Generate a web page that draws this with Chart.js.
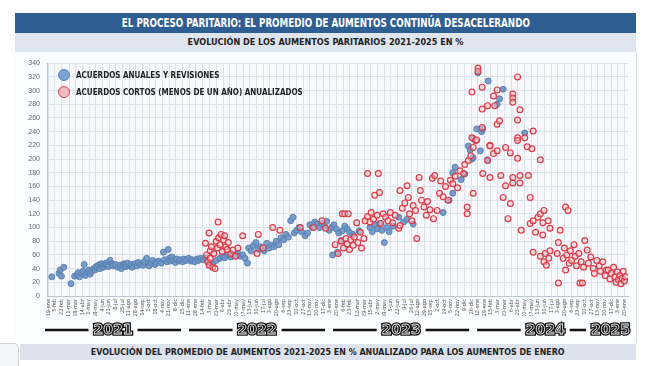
<!DOCTYPE html>
<html>
<head>
<meta charset="utf-8">
<script src="https://cdn.jsdelivr.net/npm/chart.js@4.4.1/dist/chart.umd.min.js"></script>
<style>
  body { margin: 0; width: 651px; height: 366px; background: #fff; position: relative; overflow: hidden; }
  .bar { position: absolute; text-align: center; font-family: "Liberation Sans Narrow", "DejaVu Sans Condensed", sans-serif; font-weight: bold; }
  .bar b { display: inline-block; }
  #title { left: 15px; top: 13px; width: 621px; height: 20px; line-height: 20px; background: #2f5e93; color: #fff; font-size: 12px; }
  #title b { transform: scaleX(0.81); }
  #sub { left: 15px; top: 33px; width: 621px; height: 19px; line-height: 19px; background: #dfe5ee; color: #222; font-size: 9px; }
  #box { position: absolute; left: 15px; top: 52px; width: 621px; height: 291px; background: #fbfcfd; border-right: 1px solid #d6dbe2; }
  #foot { left: 20px; top: 344px; width: 616px; height: 16px; line-height: 16px; background: #dce3ed; color: #222; font-size: 9px; }
  #foot b { transform: scaleX(0.98); }
  #tab { position: absolute; left: 0; top: 343px; width: 18px; height: 23px; background: #f4f5f7; border-right: 1px solid #cfd4da; border-top: 1px solid #cfd4da; border-top-right-radius: 5px; }
  .leg { position: absolute; left: 58px; font-family: "Liberation Sans Narrow", "DejaVu Sans Condensed", sans-serif; font-weight: bold; font-size: 8px; color: #222; }
  .leg span { display: inline-block; width: 10px; height: 10px; border-radius: 50%; vertical-align: middle; margin-right: 6px; }
</style>
</head>
<body>
<div class="bar" id="title"><b>EL PROCESO PARITARIO: EL PROMEDIO DE AUMENTOS CONTINÚA DESACELERANDO</b></div>
<div class="bar" id="sub">EVOLUCIÓN DE LOS AUMENTOS PARITARIOS 2021-2025 EN %</div>
<div id="box"><canvas id="chart" width="621" height="291"></canvas></div>
<div class="leg" style="top:69px"><span style="background:#7ba3d7;border:1px solid #5a84b5"></span>ACUERDOS ANUALES Y REVISIONES</div>
<div class="leg" style="top:86px"><span style="background:#f3bcc2;border:1px solid #d2434f"></span>ACUERDOS CORTOS (MENOS DE UN AÑO) ANUALIZADOS</div>
<div class="bar" id="foot"><b>EVOLUCIÓN DEL PROMEDIO DE AUMENTOS 2021-2025 EN % ANUALIZADO PARA LOS AUMENTOS DE ENERO</b></div>
<div id="tab"></div>
<script>
// x = months since 1 Jan 2021, y = % increase
const blue2021 = [[0.9,28],[1.5,33],[1.6,38],[1.7,29],[1.9,42],[2.5,18],[2.8,29],[3.0,31],[3.1,34],[3.2,28],[3.4,33],[3.5,36],[3.6,46],[3.7,30],[3.9,35],[4.0,38],[4.1,32],[4.2,36],[4.4,40],[4.5,38],[4.6,43],[4.7,41],[4.8,45],[4.9,40],[5.0,47],[5.1,44],[5.2,42],[5.3,46],[5.4,48],[5.5,45],[5.6,43],[5.75,52],[5.9,47],[6.0,44],[6.2,46],[6.4,42],[6.6,45],[6.7,40],[6.8,44],[6.9,47],[7.0,45],[7.1,43],[7.2,48],[7.4,44],[7.5,46],[7.6,42],[7.8,47],[8.0,44],[8.1,49],[8.3,46],[8.5,45],[8.6,50],[8.8,55],[8.9,47],[9.0,44],[9.2,48],[9.3,52],[9.5,46],[9.6,49],[9.8,51],[10.0,48],[10.2,64],[10.3,53],[10.5,50],[10.6,68],[10.7,55],[10.8,51],[10.9,57],[11.0,52],[11.2,49],[11.3,54],[11.5,51],[11.6,53],[11.8,50],[11.9,54]];
const blue2022 = [[12.1,52],[12.3,55],[12.5,51],[12.6,53],[12.8,50],[13.0,54],[13.1,52],[13.3,55],[13.5,53],[13.7,56],[14.0,48],[14.3,47],[14.6,52],[14.9,55],[15.1,58],[15.3,56],[15.6,60],[15.8,57],[16.0,61],[16.2,59],[16.4,62],[16.6,58],[16.8,60],[17.0,55],[17.2,48],[17.3,70],[17.5,66],[17.7,74],[17.9,78],[18.1,68],[18.3,72],[18.6,66],[18.8,77],[19.0,70],[19.2,74],[19.4,72],[19.6,80],[19.8,75],[20.0,85],[20.2,82],[20.4,90],[20.6,86],[20.8,110],[21.0,115],[21.1,92],[21.3,96],[21.5,100],[21.7,94],[22.0,88],[22.2,92],[22.4,104],[22.6,100],[22.8,108],[23.0,105],[23.2,100],[23.4,106],[23.6,102],[23.8,109]];
const blue2023 = [[24.0,96],[24.2,100],[24.3,60],[24.4,104],[24.6,98],[24.7,64],[24.8,92],[25.0,81],[25.1,95],[25.3,102],[25.5,98],[25.7,93],[26.0,90],[26.5,95],[27.4,100],[27.6,94],[27.8,104],[28.0,98],[28.2,106],[28.4,96],[28.6,78],[28.8,100],[29.0,94],[29.3,102],[29.8,115],[30.2,108],[30.5,112],[31.0,105],[33.5,122],[34.0,140],[34.3,150],[34.3,180],[34.5,188],[35.0,170],[35.3,178],[35.6,219],[35.75,213],[35.9,200]];
const blue2024 = [[36.0,230],[36.0,202],[36.3,244],[36.4,326],[36.6,212],[36.7,240],[36.8,244],[37.2,199],[37.25,314],[38.0,280],[38.2,288],[38.5,302],[40.3,238]];

const red2022 = [[13.7,77],[13.8,60],[13.9,50],[14.0,92],[14.0,45],[14.1,55],[14.1,66],[14.2,72],[14.3,42],[14.4,62],[14.5,40],[14.6,80],[14.7,70],[14.75,108],[14.8,85],[14.9,75],[15.0,90],[15.1,65],[15.2,82],[15.3,88],[15.4,72],[15.5,68],[15.6,78],[15.8,62],[16.0,67],[16.2,58],[16.4,70],[16.8,88],[18.0,62],[18.1,90],[18.5,70],[19.3,100],[19.9,96],[21.6,100],[22.7,100],[23.4,110],[23.7,99]];
const red2023 = [[24.5,75],[24.75,62],[25.0,80],[25.1,120],[25.2,70],[25.3,120],[25.4,84],[25.5,76],[25.6,120],[25.7,68],[25.8,82],[26.0,74],[26.1,86],[26.3,107],[26.4,78],[26.6,93],[26.7,70],[26.9,84],[27.0,110],[27.2,179],[27.2,116],[27.4,108],[27.5,122],[27.7,112],[27.8,147],[28.0,118],[28.1,179],[28.2,151],[28.3,106],[28.5,120],[28.7,115],[28.9,110],[29.1,122],[29.3,107],[29.5,118],[29.8,99],[29.9,103],[29.9,154],[30.1,128],[30.3,136],[30.5,161],[30.6,144],[30.7,120],[30.9,110],[31.0,132],[31.2,125],[31.3,84],[31.5,173],[31.6,154],[31.7,140],[31.9,130],[32.1,118],[32.2,138],[32.4,126],[32.6,172],[32.7,113],[32.8,176],[33.0,125],[33.2,150],[33.3,168],[33.5,145],[33.7,160],[33.9,140],[34.1,169],[34.3,164],[34.5,175],[34.7,158],[34.9,183],[35.2,179],[35.3,192],[35.5,130],[35.5,120],[35.6,198],[35.8,205],[35.9,298],[35.9,231]];
const red2024 = [[36.0,150],[36.0,217],[36.2,227],[36.3,228],[36.4,333],[36.4,328],[36.75,305],[36.75,273],[36.75,246],[36.8,179],[37.2,278],[37.2,198],[37.4,220],[37.4,219],[37.4,173],[37.7,292],[37.7,208],[37.8,278],[38.0,301],[38.0,251],[38.0,212],[38.2,256],[38.3,176],[38.5,144],[38.7,161],[38.7,217],[38.9,113],[39.1,135],[39.1,209],[39.3,295],[39.3,289],[39.3,283],[39.3,165],[39.3,173],[39.7,320],[39.7,257],[39.7,231],[39.7,227],[39.7,201],[39.9,272],[39.9,176],[39.9,165],[40.0,96],[40.3,231],[40.5,218],[40.6,176],[40.75,144],[40.75,106],[40.9,215],[41.0,241],[41.0,64],[41.0,110],[41.2,93],[41.4,115],[41.6,199],[41.6,120],[41.6,58],[41.8,89],[41.8,107],[41.9,125],[41.9,50],[42.0,62],[42.1,45],[42.25,110],[42.3,55],[42.4,99],[42.4,66],[43.0,62],[43.1,78],[43.1,19],[43.25,96],[43.5,55],[43.6,70],[43.7,130],[43.7,38],[43.8,60],[43.9,125],[44.0,48],[44.1,66],[44.2,52],[44.4,75],[44.5,58],[44.6,44],[44.8,62],[44.9,19],[45.0,50],[45.1,19],[45.2,42],[45.3,81],[45.5,67],[45.6,48],[45.8,57],[46.0,40],[46.1,33],[46.3,52],[46.5,44],[46.6,36],[46.8,50],[47.0,30],[47.1,38],[47.25,38],[47.4,25],[47.5,33],[47.7,42],[47.8,28],[47.9,20]];
const red2025 = [[48.0,35],[48.1,24],[48.2,30],[48.3,18],[48.4,26],[48.5,36],[48.6,22],[48.7,28]];

const monthNames = ["ene","feb","mar","abr","may","jun","jul","ago","sep","oct","nov","dic"];
const ticks2021 = ["19-ene","5-feb","22-feb","11-mar","28-mar","14-abr","1-may","18-may","4-jun","21-jun","8-jul","25-jul","11-ago","28-ago","14-sep","1-oct","18-oct","4-nov","21-nov","8-dic","25-dic"];
const ticks2022 = ["11-ene","28-ene","14-feb","3-mar","20-mar","6-abr","23-abr","10-may","27-may","13-jun","30-jun","17-jul","3-ago","20-ago","6-sep","23-sep","10-oct","27-oct","13-nov","30-nov","17-dic"];
const ticks2023 = ["3-ene","20-ene","6-feb","23-feb","12-mar","29-mar","15-abr","2-may","19-may","5-jun","22-jun","9-jul","26-jul","12-ago","29-ago","15-sep","2-oct","19-oct","5-nov","22-nov","9-dic","26-dic"];
const ticks2024 = ["12-ene","29-ene","15-feb","3-mar","20-mar","6-abr","23-abr","10-may","27-may","13-jun","30-jun","17-jul","3-ago","20-ago","6-sep","23-sep","10-oct","27-oct","13-nov","30-nov","17-dic"];
const ticks2025 = ["3-ene","20-ene"];
const years = ["2021","2022","2023","2024","2025"];

const toXY = p => ({ x: p[0], y: p[1] });
const blueData = [].concat(blue2021, blue2022, blue2023, blue2024).map(toXY);
const redData = [].concat(red2022, red2023, red2024, red2025).map(toXY);

const tickLabels = [];
const tickPos = [];
[ticks2021, ticks2022, ticks2023, ticks2024, ticks2025].forEach((list, yi) => {
    list.forEach(lbl => {
        const parts = lbl.split("-");
        tickLabels.push(lbl);
        tickPos.push(yi * 12 + monthNames.indexOf(parts[1]) + (parseInt(parts[0]) - 1) / 30);
    });
});

const yearBand = {
    id: "yearBand",
    afterDraw(chart) {
        const ctx = chart.ctx;
        const xs = chart.scales.x;
        const area = chart.chartArea;
        const y = 278;
        ctx.save();
        ctx.font = "bold 14px 'DejaVu Sans'";
        ctx.textAlign = "center";
        ctx.textBaseline = "middle";
        const boxes = years.map((yr, i) => {
            const x0 = xs.getPixelForValue(i * 12);
            const x1 = xs.getPixelForValue(i * 12 + 12);
            const w = ctx.measureText(yr).width;
            let cx = (x0 + x1) / 2;
            if (cx + w / 2 > area.right + 2) cx = area.right + 2 - w / 2;
            return { yr, x0, x1, cx, w };
        });
        ctx.strokeStyle = "#111";
        ctx.lineWidth = 2.5;
        boxes.forEach((b, i) => {
            const l0 = Math.max(b.x0 + 4, area.left - 3);
            const l1 = b.cx - b.w / 2 - 5;
            const nextLeft = i < boxes.length - 1 ? boxes[i + 1].cx - boxes[i + 1].w / 2 - 5 : area.right;
            const r0 = b.cx + b.w / 2 + 5;
            const r1 = Math.min(b.x1 - 4, nextLeft);
            ctx.beginPath();
            if (l1 > l0) { ctx.moveTo(l0, y); ctx.lineTo(l1, y); }
            if (r1 > r0) { ctx.moveTo(r0, y); ctx.lineTo(r1, y); }
            ctx.stroke();
        });
        boxes.forEach(b => {
            ctx.lineWidth = 3.5;
            ctx.strokeStyle = "#111";
            ctx.strokeText(b.yr, b.cx, y);
            ctx.fillStyle = "#111";
            ctx.fillText(b.yr, b.cx, y);
            ctx.lineWidth = 0.8;
            ctx.strokeStyle = "rgba(255,255,255,0.95)";
            ctx.strokeText(b.yr, b.cx, y);
        });
        ctx.restore();
    }
};

const plotBg = {
    id: "plotBg",
    beforeDraw(chart) {
        const a = chart.chartArea;
        chart.ctx.save();
        chart.ctx.fillStyle = "#f7f9fc";
        chart.ctx.fillRect(a.left, a.top, a.right - a.left, a.bottom - a.top);
        chart.ctx.restore();
    }
};

new Chart(document.getElementById("chart"), {
    type: "scatter",
    data: {
        datasets: [
            {
                label: "ACUERDOS ANUALES Y REVISIONES",
                data: blueData,
                order: 2,
                pointRadius: 3,
                borderWidth: 1,
                backgroundColor: "rgba(108,148,200,0.92)",
                borderColor: "#5a82b0"
            },
            {
                label: "ACUERDOS CORTOS (MENOS DE UN AÑO) ANUALIZADOS",
                data: redData,
                order: 1,
                pointRadius: 2.9,
                borderWidth: 1.2,
                backgroundColor: "rgba(248,195,200,0.5)",
                borderColor: "#dc3c48"
            }
        ]
    },
    options: {
        responsive: false,
        animation: false,
        layout: { padding: { top: 8, right: 8, bottom: 27, left: 0 } },
        plugins: { legend: { display: false }, tooltip: { enabled: false } },
        scales: {
            x: {
                type: "linear",
                min: 0.5,
                max: 48.9,
                afterBuildTicks: s => { s.ticks = tickPos.map(v => ({ value: v })); },
                afterFit: s => { s.height = 20; },
                grid: { color: "#dbe2eb", lineWidth: 1, drawTicks: false },
                border: { color: "#bcc5d0" },
                ticks: {
                    autoSkip: false,
                    minRotation: 90,
                    maxRotation: 90,
                    padding: 3,
                    color: "#555",
                    font: { size: 5.5, family: "'Liberation Sans Narrow', 'DejaVu Sans Condensed', sans-serif" },
                    callback: (v, i) => tickLabels[i]
                }
            },
            y: {
                min: 0,
                max: 340,
                afterFit: s => { s.width = 32; },
                grid: { color: "#dbe2eb", lineWidth: 1, drawTicks: false },
                border: { color: "#bcc5d0" },
                ticks: {
                    stepSize: 10,
                    padding: 7,
                    color: "#666",
                    font: { size: 7, family: "'Liberation Sans', sans-serif" },
                    callback: v => (v % 20 === 0 ? v : "")
                }
            }
        }
    },
    plugins: [plotBg, yearBand]
});
</script>
</body>
</html>
